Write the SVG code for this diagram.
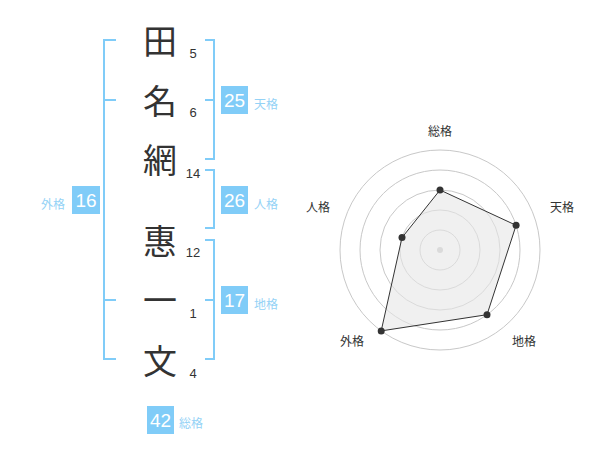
<svg xmlns="http://www.w3.org/2000/svg" width="600" height="470" viewBox="0 0 600 470">
<style>
.br{fill:none;stroke:#80ccf8;stroke-width:2}
.box{fill:#80ccf8}
.bn{font-family:"Liberation Sans",Arial,sans-serif;font-size:19px;fill:#fff;text-anchor:middle}
.lb{font-family:"Noto Sans CJK JP","Noto Sans",sans-serif;font-size:12px;fill:#94d2f6}
.ch{font-family:"Noto Sans CJK JP",sans-serif;font-size:34px;fill:#333;text-anchor:middle}
.num{font-family:"Liberation Sans",Arial,sans-serif;font-size:13px;fill:#333;text-anchor:middle}
.rl{font-family:"Noto Sans CJK JP",sans-serif;font-size:12px;fill:#333;text-anchor:middle}
.ring{fill:none;stroke:#c8c8c8;stroke-width:1}
.pt{fill:#333}
</style>
<rect width="600" height="470" fill="#fff"/>
<g id="connectors">
<path class="br" d="M116,40 H104 V359 H116 M104,100 H116 M104,300 H116"/>
<path class="br" d="M205,40 H214 V159 H205 M205,100 H214"/>
<path class="br" d="M205,170 H214 V228 H205"/>
<path class="br" d="M205,240 H214 V359 H205 M205,300 H214"/>
</g>
<g id="chars">
<text class="ch" x="160" y="54">田</text>
<text class="ch" x="160" y="114">名</text>
<text class="ch" x="160" y="173">網</text>
<text class="ch" x="160" y="254">惠</text>
<text class="ch" x="160" y="313">一</text>
<text class="ch" x="160" y="374">文</text>
</g>
<g id="strokes">
<text class="num" x="193" y="58">5</text>
<text class="num" x="193" y="117">6</text>
<text class="num" x="193" y="178">14</text>
<text class="num" x="193" y="257">12</text>
<text class="num" x="193" y="318">1</text>
<text class="num" x="193" y="378">4</text>
</g>
<g id="tenkaku">
<rect class="box" x="221" y="86" width="27" height="28"/>
<text class="bn" x="234.5" y="107">25</text>
<text class="lb" x="254" y="109">天格</text>
</g>
<g id="jinkaku">
<rect class="box" x="221" y="186" width="27" height="28"/>
<text class="bn" x="234.5" y="207">26</text>
<text class="lb" x="254" y="209">人格</text>
</g>
<g id="chikaku">
<rect class="box" x="221" y="286" width="27" height="28"/>
<text class="bn" x="234.5" y="307">17</text>
<text class="lb" x="254" y="309">地格</text>
</g>
<g id="gaikaku">
<rect class="box" x="72" y="186" width="28" height="28"/>
<text class="bn" x="86" y="207">16</text>
<text class="lb" x="41" y="209">外格</text>
</g>
<g id="soukaku">
<rect class="box" x="147" y="406" width="27" height="28"/>
<text class="bn" x="160.5" y="427">42</text>
<text class="lb" x="179" y="428">総格</text>
</g>
<g id="radar">
<circle class="ring" cx="440" cy="250" r="20"/>
<circle class="ring" cx="440" cy="250" r="40"/>
<circle class="ring" cx="440" cy="250" r="60"/>
<circle class="ring" cx="440" cy="250" r="80"/>
<circle class="ring" cx="440" cy="250" r="100"/>
<circle cx="440" cy="250" r="3" fill="#c8c8c8"/>
<polygon points="440,190 516.1,225.3 487,314.7 381.2,330.9 402,237.6" fill="#e6e6e6" fill-opacity="0.6" stroke="#333" stroke-width="1"/>
<circle class="pt" cx="440" cy="190" r="3.5"/>
<circle class="pt" cx="516.1" cy="225.3" r="3.5"/>
<circle class="pt" cx="487" cy="314.7" r="3.5"/>
<circle class="pt" cx="381.2" cy="330.9" r="3.5"/>
<circle class="pt" cx="402" cy="237.6" r="3.5"/>
<text class="rl" x="440" y="136">総格</text>
<text class="rl" x="562" y="212">天格</text>
<text class="rl" x="524" y="346">地格</text>
<text class="rl" x="352" y="346">外格</text>
<text class="rl" x="318" y="212">人格</text>
</g>
</svg>
